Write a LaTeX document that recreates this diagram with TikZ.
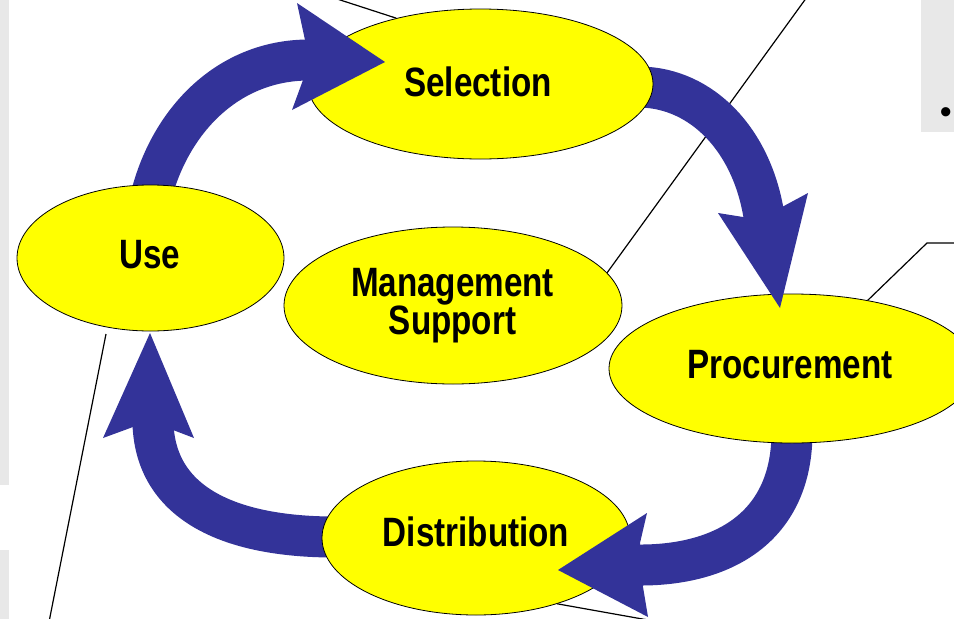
\documentclass[tikz,border=0pt]{standalone}
\usepackage{fontspec}
\newfontfamily\lblfont[FakeStretch=0.81]{Liberation Sans}
\newfontfamily\bulfont{Liberation Sans}
\usetikzlibrary{shapes.geometric}
\definecolor{flowblue}{RGB}{51,51,153}
\definecolor{panelgray}{RGB}{232,232,232}
\definecolor{ovalyellow}{RGB}{255,255,0}
\pgfdeclarelayer{bg}
\pgfdeclarelayer{fg}
\pgfsetlayers{bg,main,fg}
\begin{document}
\begin{tikzpicture}[x=1pt,y=-1pt,
  oval/.style={ellipse, draw=black, line width=0.8pt, fill=ovalyellow, inner sep=0pt},
  lbl/.style={font=\lblfont\bfseries\fontsize{41}{38}\selectfont, inner sep=0pt, anchor=base, text=black},
  shaft/.style={draw=flowblue, line width=41pt},
  head/.style={fill=flowblue, draw=none},
  callout/.style={draw=black, line width=1.2pt},
  panel/.style={fill=panelgray, draw=none}]
\useasboundingbox (0,0) rectangle (954,619);
% ---------- named points ----------
\coordinate (c1) at (331,-3);
\coordinate (c2) at (807,-3);
\coordinate (c3) at (927,243);
\coordinate (c4) at (960,243);
\coordinate (u0) at (106,334);
\coordinate (u1) at (49,622);
\coordinate (c5) at (676,625);
% shaft starts (hidden under ovals) and ends (inside heads)
\coordinate (s1a) at (149,205);
\coordinate (s1b) at (309,60);
\coordinate (s2a) at (640,87);
\coordinate (s2b) at (764,216);
\coordinate (s3a) at (792,430);
\coordinate (s3b) at (637,565);
\coordinate (s4a) at (340,537);
\coordinate (s4b) at (153,424);
% heads
\coordinate (h1t) at (385,62);  \coordinate (h1a) at (297,3);   \coordinate (h1na) at (305,40);  \coordinate (h1nb) at (303,80);  \coordinate (h1b) at (292,110);
\coordinate (h2t) at (780,308); \coordinate (h2a) at (718,213); \coordinate (h2na) at (743,217); \coordinate (h2nb) at (782,207); \coordinate (h2b) at (808,193);
\coordinate (h3t) at (558,570); \coordinate (h3a) at (647,513); \coordinate (h3na) at (640,543); \coordinate (h3nb) at (643,587); \coordinate (h3b) at (648,617);
\coordinate (h4t) at (150,333); \coordinate (h4a) at (103,438); \coordinate (h4na) at (133,427); \coordinate (h4nb) at (173,430); \coordinate (h4b) at (194,438);

% ---------- ovals ----------
\begin{scope}
\clip (0,0) rectangle (954,619);
\node[oval, minimum width=345pt, minimum height=150pt] (sel)  at (480.5,84) {};
\node[oval, minimum width=267pt, minimum height=146pt] (use)  at (150.5,258) {};
\node[oval, minimum width=338pt, minimum height=157pt] (mgt)  at (453,305.5) {};
\node[oval, minimum width=366pt, minimum height=149pt] (proc) at (792,368.5) {};
\node[oval, minimum width=308pt, minimum height=154pt] (dist) at (476,538) {};
\end{scope}

% ---------- labels ----------
\node[lbl] (selt)  at (478,96)    {Selection};
\node[lbl] (uset)  at (150,268)   {Use};
\node[lbl] (mgtA)  at (452.5,296) {Management};
\node[lbl] (mgtB)  at (452.5,334) {Support};
\node[lbl] (proct) at (790,378)   {Procurement};
\node[lbl] (distt) at (476,546)   {Distribution};
\node[font=\bulfont\fontsize{34}{34}\selectfont, anchor=base, inner sep=0pt] (bul) at (945.7,123) {•};

% ---------- background: panels, callout lines, shafts ----------
\begin{pgfonlayer}{bg}
\begin{scope}
\clip (0,0) rectangle (954,619);
\fill[white] (0,0) rectangle (954,619);
\fill[panel] (0,0) rectangle (9,485);
\fill[panel] (0,550) rectangle (9,619);
\fill[panel] (921,0) rectangle (954,132);
\draw[callout] (sel.142) -- (c1);
\draw[callout] (mgt.12) -- (c2);
\draw[callout] (proc.42) -- (c3) -- (c4);
\draw[callout] (u0) -- (u1);
\draw[callout] (dist.321.6) -- (c5);
\draw[shaft] (s1a) .. controls (166,125) and (225,60) .. (s1b);
\draw[shaft] (s2a) .. controls (702,88) and (752,140) .. (s2b);
\draw[shaft] (s3a) .. controls (793,528) and (722,566) .. (s3b);
\draw[shaft] (s4a) .. controls (232,538) and (156,505) .. (s4b);
\end{scope}
\end{pgfonlayer}

% ---------- foreground: arrow heads ----------
\begin{pgfonlayer}{fg}
\begin{scope}
\clip (0,0) rectangle (954,619);
\fill[head] (h1t) -- (h1a) -- (h1na) -- (h1nb) -- (h1b) -- cycle;
\fill[head] (h2t) -- (h2a) -- (h2na) -- (h2nb) -- (h2b) -- cycle;
\fill[head] (h3t) -- (h3a) -- (h3na) -- (h3nb) -- (h3b) -- cycle;
\fill[head] (h4t) -- (h4a) -- (h4na) -- (h4nb) -- (h4b) -- cycle;
\end{scope}
\end{pgfonlayer}
\end{tikzpicture}
\end{document}
